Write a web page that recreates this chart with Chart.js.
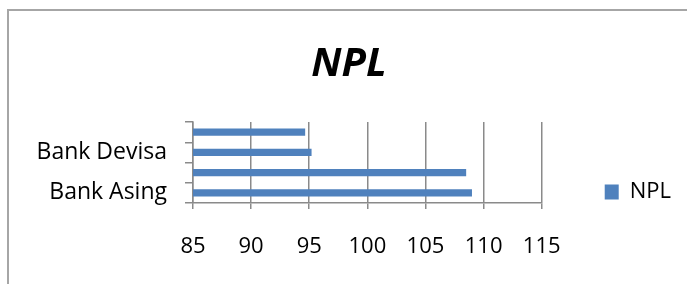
<!DOCTYPE html>
<html>
<head>
<meta charset="utf-8">
<script src="https://cdn.jsdelivr.net/npm/chart.js@4.4.0/dist/chart.umd.min.js"></script>
<style>
  body { margin: 0; background: #fff; }
  #wrap { position: relative; width: 687px; height: 284px; overflow: hidden; }
  #frame {
    position: absolute; left: 7px; top: 9px; width: 760px; height: 320px;
    border-top: 2px solid #a6a6a6; border-left: 2px solid #a6a6a6;
  }
  canvas { position: absolute; left: 0; top: 0; }
</style>
</head>
<body>
<div id="wrap">
  <div id="frame"></div>
  <canvas id="c" width="687" height="284"></canvas>
</div>
<script>
// categories, top to bottom (only every other one carries a visible label)
const categories = ["", "Bank Devisa", "", "Bank Asing"];
const npl = [94.65, 95.2, 108.5, 109.0];
const seriesName = "NPL";
const xMin = 85, xMax = 115, xStep = 5;

const FONT = "'Open Sans', sans-serif";
const GRID = "#8a8a8a";

new Chart(document.getElementById("c"), {
  type: "bar",
  data: {
    labels: categories,
    datasets: [{
      label: seriesName,
      data: npl,
      backgroundColor: "#4f81bd",
      borderWidth: 0,
      barPercentage: 0.36,
      categoryPercentage: 1
    }]
  },
  options: {
    indexAxis: "y",
    responsive: false,
    animation: false,
    layout: { padding: { left: 17, right: 6, top: 0, bottom: 18 } },
    plugins: {
      title: {
        display: true,
        text: "NPL",
        color: "#000",
        font: { family: FONT, size: 40, weight: "bold", style: "italic" },
        padding: { top: 41, bottom: 33 }
      },
      legend: {
        position: "right",
        align: "end",
        labels: {
          boxWidth: 14,
          boxHeight: 15,
          padding: 63,
          color: "#000",
          font: { family: FONT, size: 22 }
        }
      },
      tooltip: { enabled: false }
    },
    scales: {
      x: {
        min: xMin,
        max: xMax,
        ticks: { stepSize: xStep, color: "#000", padding: 25, font: { family: FONT, size: 22 } },
        grid: { color: GRID, lineWidth: 1.5, tickLength: 6 },
        border: { color: GRID, width: 1.5 },
        afterFit: s => { s.height = 63; }
      },
      y: {
        ticks: { color: "#000", padding: 18, autoSkip: false, font: { family: FONT, size: 23 } },
        grid: { drawOnChartArea: false, color: GRID, lineWidth: 1.5, tickLength: 8 },
        border: { color: GRID, width: 1.5 },
        afterFit: s => { s.width = 176; }
      }
    }
  }
});
</script>
</body>
</html>
